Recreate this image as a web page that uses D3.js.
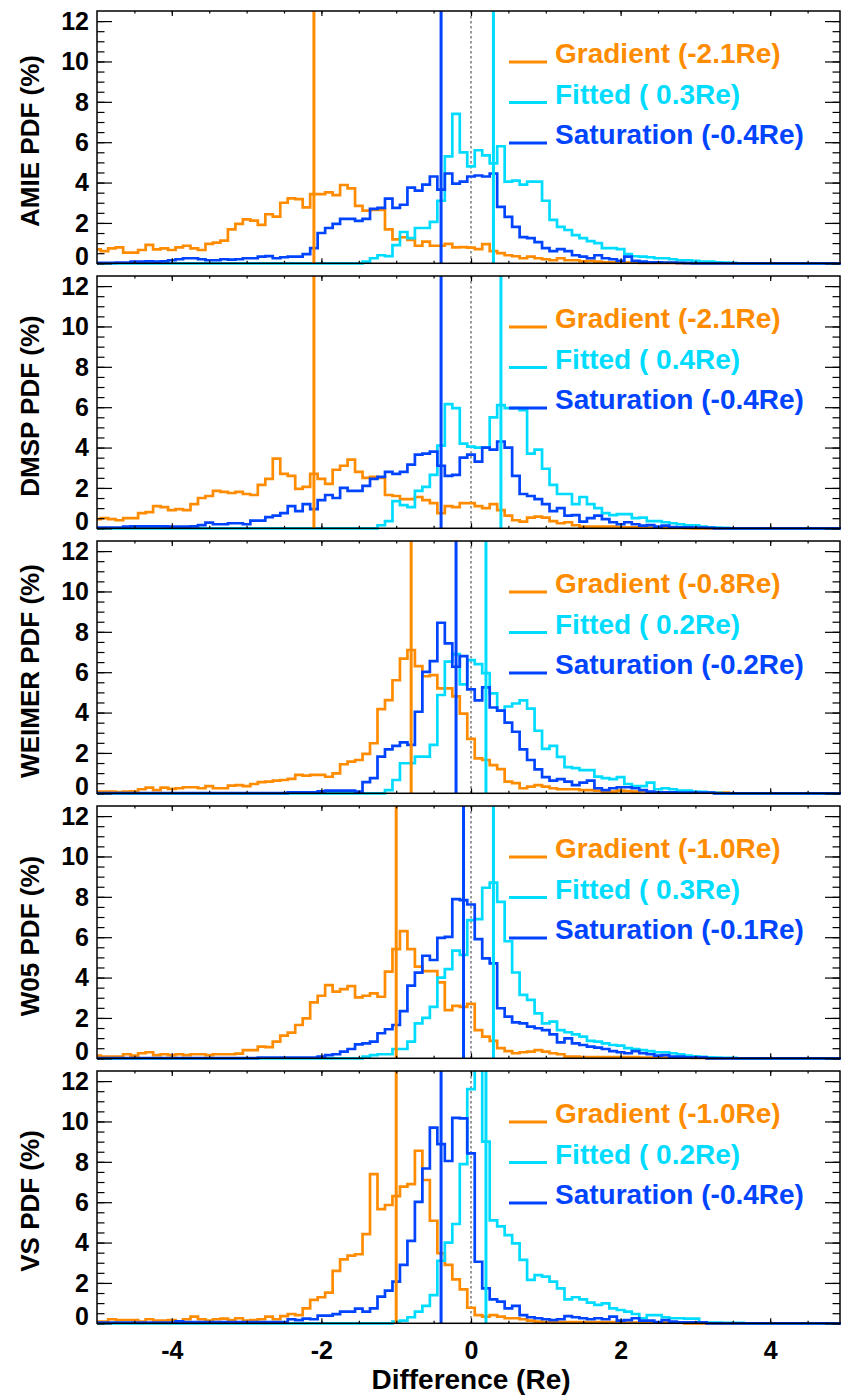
<!DOCTYPE html>
<html>
<head>
<meta charset="utf-8">
<script src="https://cdn.jsdelivr.net/npm/d3@7"></script>
<style>
  body { margin: 0; background: #ffffff; }
</style>
</head>
<body>
<div class="chart"></div>
<script>
var w = 841;
var h = 1395;
var colorGradient = "#ff8c00";
var colorFitted = "#00dcff";
var colorSaturation = "#0044ff";
var fontFamily = "'Liberation Sans', Arial, Helvetica, sans-serif";

// bin centres, 0.1 Re wide, from -5 to 5
var binCenters = d3.range(101).map(function(i){ return (i - 50) / 10; });

var panelNames = ["AMIE", "DMSP", "WEIMER", "W05", "VS"];
var gradientMeans = [-2.1, -2.1, -0.8, -1.0, -1.0];
var fittedMeans = [0.3, 0.4, 0.2, 0.3, 0.2];
var saturationMeans = [-0.4, -0.4, -0.2, -0.1, -0.4];

var yTicks = [0, 2, 4, 6, 8, 10, 12];
var yMinorTicks = d3.range(0, 12.5, 0.5);
var xTicks = [-4, -2, 0, 2, 4];
var xMinorTicks = d3.range(-4.5, 5, 0.5);

// PDF (%) per bin
var amieGradient = [
 0.69, 0.6, 0.74, 0.79, 0.53, 0.53, 0.66, 0.91, 0.69, 0.74,
 0.66, 0.79, 0.87, 0.74, 0.66, 0.96, 1.02, 1.12, 1.68, 1.95,
 2.18, 2.11, 1.9, 2.43, 2.31, 3.0, 3.22, 3.18, 2.77, 3.43,
 3.43, 3.51, 3.38, 3.88, 3.71, 2.85, 2.61, 2.64, 2.64, 1.68,
 1.19, 1.29, 1.16, 0.87, 1.07, 0.87, 0.87, 0.96, 0.79, 0.8,
 0.78, 0.7, 0.95, 0.6, 0.5, 0.4, 0.35, 0.25, 0.33, 0.25,
 0.2, 0.15, 0.25, 0.15, 0.15, 0.1, 0.12, 0.08, 0.05, 0.05,
 0.03, 0.03, 0.03, 0.02, 0.02, 0.02, 0.02, 0.02, 0.01, 0.01,
 0, 0, 0, 0, 0, 0, 0, 0, 0, 0,
 0, 0, 0, 0, 0, 0, 0, 0, 0, 0,
 0];
var amieFitted = [
 0, 0, 0, 0, 0, 0, 0, 0, 0, 0,
 0, 0, 0, 0, 0, 0, 0, 0, 0, 0,
 0, 0, 0, 0, 0, 0, 0, 0, 0, 0,
 0, 0, 0, 0, 0, 0, 0.08, 0.25, 0.4, 0.36,
 0.9, 1.55, 1.25, 1.75, 1.75, 2.05, 3.1, 5.3, 7.4, 5.5,
 4.8, 5.6, 5.35, 4.95, 5.8, 4.05, 4.1, 3.9, 4.05, 4.05,
 3.1, 2.15, 1.8, 1.65, 1.4, 1.25, 1.1, 1.0, 0.75, 0.75,
 0.7, 0.45, 0.35, 0.33, 0.3, 0.25, 0.25, 0.2, 0.15, 0.15,
 0.12, 0.08, 0.08, 0.05, 0.03, 0.02, 0, 0, 0, 0,
 0, 0, 0, 0, 0, 0, 0, 0, 0, 0,
 0];
var amieSaturation = [
 0.02, 0.02, 0.02, 0.03, 0.03, 0.08, 0.08, 0.1, 0.08, 0.1,
 0.15, 0.2, 0.25, 0.25, 0.2, 0.15, 0.15, 0.2, 0.18, 0.2,
 0.25, 0.25, 0.33, 0.36, 0.25, 0.3, 0.33, 0.33, 0.45, 0.75,
 1.5, 1.75, 1.95, 2.2, 2.2, 2.1, 2.2, 2.7, 2.75, 3.2,
 2.75, 2.9, 3.75, 3.6, 3.9, 4.3, 3.65, 4.45, 3.95, 4.05,
 4.3, 4.35, 4.3, 4.45, 2.8, 2.3, 1.8, 1.3, 1.25, 1.05,
 0.75, 0.6, 0.7, 0.6, 0.4, 0.33, 0.25, 0.4, 0.25, 0.2,
 0.12, 0.33, 0.12, 0.08, 0.05, 0.05, 0.04, 0.03, 0.02, 0.01,
 0, 0, 0, 0, 0, 0, 0, 0, 0, 0,
 0, 0, 0, 0, 0, 0, 0, 0, 0, 0,
 0];

var dmspGradient = [
 0.45, 0.5, 0.45, 0.4, 0.5, 0.5, 0.75, 0.8, 1.1, 1.05,
 0.9, 0.95, 0.9, 1.2, 1.5, 1.6, 1.85, 1.8, 1.75, 1.8,
 1.7, 1.65, 2.15, 2.45, 3.45, 2.7, 2.6, 1.95, 2.05, 2.7,
 2.45, 2.2, 2.9, 3.1, 3.4, 2.8, 2.5, 2.55, 2.5, 1.65,
 1.6, 1.45, 1.45, 1.55, 1.4, 1.25, 0.75, 1.1, 1.05, 1.25,
 1.25, 1.1, 1.0, 1.2, 0.9, 0.63, 0.4, 0.33, 0.53, 0.58,
 0.53, 0.36, 0.25, 0.3, 0.15, 0.08, 0.08, 0.08, 0.08, 0.08,
 0.05, 0.05, 0.05, 0.04, 0.03, 0.03, 0.02, 0.02, 0.02, 0.01,
 0, 0, 0, 0, 0, 0, 0, 0, 0, 0,
 0, 0, 0, 0, 0, 0, 0, 0, 0, 0,
 0];
var dmspFitted = [
 0, 0, 0, 0, 0, 0, 0, 0, 0, 0,
 0, 0, 0, 0, 0, 0, 0, 0, 0, 0,
 0, 0, 0, 0, 0, 0, 0, 0, 0, 0,
 0, 0, 0, 0, 0, 0, 0, 0, 0.15, 0.36,
 1.35, 1.15, 1.05, 1.85, 2.05, 2.65, 4.1, 6.15, 5.95, 4.2,
 4.05, 4.0, 4.0, 5.5, 6.1, 5.95, 5.95, 5.85, 3.7, 3.9,
 2.95, 2.15, 1.7, 1.7, 1.2, 1.55, 1.2, 1.0, 0.75, 0.65,
 0.7, 0.7, 0.5, 0.53, 0.36, 0.36, 0.3, 0.25, 0.2, 0.15,
 0.15, 0.08, 0.05, 0.03, 0.02, 0, 0, 0, 0, 0,
 0, 0, 0, 0, 0, 0, 0, 0, 0, 0,
 0];
var dmspSaturation = [
 0.03, 0.03, 0.03, 0.03, 0.08, 0.1, 0.1, 0.1, 0.1, 0.1,
 0.08, 0.08, 0.08, 0.1, 0.16, 0.28, 0.2, 0.2, 0.25, 0.25,
 0.2, 0.38, 0.38, 0.55, 0.63, 0.75, 1.1, 0.85, 1.2, 0.95,
 1.4, 1.65, 1.5, 2.0, 1.85, 1.85, 2.1, 2.45, 2.55, 2.8,
 2.7, 2.8, 3.15, 3.65, 3.7, 3.8, 3.1, 2.6, 2.65, 3.5,
 3.65, 3.3, 4.0, 3.9, 4.3, 4.0, 2.6, 1.7, 1.6, 1.45,
 1.2, 0.85, 1.0, 0.63, 0.65, 0.33, 0.5, 0.63, 0.45, 0.3,
 0.2, 0.3, 0.2, 0.13, 0.16, 0.08, 0.13, 0.06, 0.05, 0.05,
 0.04, 0.03, 0.02, 0, 0, 0, 0, 0, 0, 0,
 0, 0, 0, 0, 0, 0, 0, 0, 0, 0,
 0];

var weimerGradient = [
 0.08, 0.08, 0.08, 0.06, 0.08, 0.1, 0.2, 0.28, 0.16, 0.28,
 0.22, 0.25, 0.3, 0.3, 0.25, 0.36, 0.25, 0.25, 0.38, 0.41,
 0.36, 0.46, 0.55, 0.58, 0.63, 0.66, 0.71, 0.91, 0.88, 0.91,
 0.91, 0.82, 0.99, 1.44, 1.57, 1.65, 1.95, 2.48, 4.17, 4.62,
 5.6, 6.67, 7.1, 6.3, 5.8, 5.85, 5.2, 5.2, 4.8, 3.95,
 2.7, 1.73, 1.65, 1.4, 1.2, 0.58, 0.5, 0.25, 0.33, 0.41,
 0.33, 0.25, 0.2, 0.2, 0.2, 0.16, 0.16, 0.13, 0.08, 0.08,
 0.13, 0.11, 0.08, 0.11, 0.05, 0.05, 0.05, 0.05, 0.05, 0.05,
 0.05, 0.03, 0.03, 0.03, 0.03, 0, 0, 0, 0, 0,
 0, 0, 0, 0, 0, 0, 0, 0, 0, 0,
 0];
var weimerFitted = [
 0, 0, 0, 0, 0, 0, 0, 0, 0, 0,
 0, 0, 0, 0, 0, 0, 0, 0, 0, 0,
 0, 0, 0, 0, 0, 0, 0, 0, 0, 0,
 0, 0, 0, 0, 0, 0, 0, 0, 0, 0.16,
 0.66, 1.49, 1.49, 1.82, 1.82, 2.4, 4.87, 6.52, 6.9, 5.4,
 6.6, 6.4, 5.95, 4.95, 4.1, 4.3, 4.45, 4.6, 4.2, 3.1,
 2.2, 2.35, 1.8, 1.3, 1.25, 1.15, 1.15, 0.83, 0.75, 0.7,
 0.8, 0.46, 0.36, 0.36, 0.53, 0.2, 0.25, 0.2, 0.13, 0.13,
 0.08, 0.07, 0.03, 0.02, 0, 0, 0, 0, 0, 0,
 0, 0, 0, 0, 0, 0, 0, 0, 0, 0,
 0];
var weimerSaturation = [
 0.01, 0.01, 0.01, 0.01, 0.01, 0.01, 0.01, 0.01, 0.01, 0.01,
 0.01, 0.01, 0.01, 0.01, 0.01, 0.01, 0.01, 0.01, 0.01, 0.01,
 0.01, 0.01, 0.01, 0.01, 0.01, 0.01, 0.05, 0.05, 0.05, 0.05,
 0.1, 0.13, 0.13, 0.13, 0.13, 0.08, 0.55, 0.75, 1.82, 2.18,
 2.35, 2.52, 2.4, 4.04, 6.02, 6.55, 8.45, 7.43, 6.27, 6.8,
 5.15, 4.6, 5.25, 4.25, 4.1, 3.5, 3.05, 2.18, 1.65, 1.19,
 0.8, 0.63, 0.7, 0.58, 0.41, 0.53, 0.63, 0.25, 0.16, 0.25,
 0.3, 0.3, 0.25, 0.16, 0.08, 0.05, 0.05, 0.05, 0.03, 0.03,
 0.03, 0.03, 0.03, 0, 0, 0, 0, 0, 0, 0,
 0, 0, 0, 0, 0, 0, 0, 0, 0, 0,
 0];

var w05Gradient = [
 0.13, 0.08, 0.08, 0.08, 0.2, 0.13, 0.25, 0.3, 0.16, 0.2,
 0.16, 0.2, 0.16, 0.2, 0.2, 0.16, 0.2, 0.2, 0.2, 0.23,
 0.41, 0.41, 0.58, 0.55, 0.83, 1.12, 1.27, 1.65, 1.98, 2.77,
 3.1, 3.63, 3.3, 3.43, 3.58, 3.02, 3.1, 3.22, 3.05, 4.29,
 5.41, 6.3, 5.41, 4.54, 4.32, 4.32, 3.76, 2.39, 2.6, 2.55,
 2.7, 1.4, 1.07, 0.86, 0.5, 0.36, 0.25, 0.3, 0.33, 0.41,
 0.33, 0.25, 0.2, 0.08, 0.08, 0.06, 0.06, 0.06, 0.06, 0.06,
 0.06, 0.06, 0.06, 0.03, 0.03, 0.03, 0.03, 0.03, 0.03, 0.03,
 0.02, 0.02, 0, 0, 0, 0, 0, 0, 0, 0,
 0, 0, 0, 0, 0, 0, 0, 0, 0, 0,
 0];
var w05Fitted = [
 0, 0, 0, 0, 0, 0, 0, 0, 0, 0,
 0, 0, 0, 0, 0, 0, 0, 0, 0, 0,
 0, 0, 0, 0, 0, 0, 0, 0, 0, 0,
 0, 0, 0, 0, 0, 0, 0.08, 0.16, 0.2, 0.2,
 0.46, 0.46, 0.83, 1.73, 2.0, 2.55, 4.0, 4.42, 5.33, 5.12,
 6.85, 6.9, 8.45, 8.7, 7.75, 5.8, 4.25, 3.14, 2.89, 2.23,
 1.73, 1.82, 1.4, 1.29, 1.19, 1.07, 0.86, 0.83, 0.74, 0.66,
 0.63, 0.5, 0.46, 0.41, 0.36, 0.3, 0.3, 0.25, 0.2, 0.13,
 0.1, 0.07, 0.05, 0.03, 0.02, 0.02, 0, 0, 0, 0,
 0, 0, 0, 0, 0, 0, 0, 0, 0, 0,
 0];
var w05Saturation = [
 0.01, 0.01, 0.01, 0.01, 0.01, 0.01, 0.01, 0.01, 0.01, 0.01,
 0.01, 0.01, 0.01, 0.01, 0.01, 0.01, 0.01, 0.01, 0.01, 0.01,
 0.01, 0.01, 0.03, 0.03, 0.03, 0.03, 0.03, 0.03, 0.03, 0.03,
 0.08, 0.16, 0.2, 0.33, 0.46, 0.69, 0.74, 0.83, 1.24, 1.44,
 1.65, 2.34, 3.6, 4.24, 5.08, 4.87, 5.97, 6.02, 7.89, 7.84,
 7.62, 5.9, 4.95, 4.7, 2.48, 2.06, 1.78, 1.73, 1.57, 1.49,
 1.4, 1.19, 0.79, 0.99, 0.74, 0.66, 0.58, 0.53, 0.46, 0.36,
 0.3, 0.25, 0.36, 0.25, 0.2, 0.13, 0.16, 0.08, 0.08, 0.05,
 0.05, 0.05, 0, 0, 0, 0, 0, 0, 0, 0,
 0, 0, 0, 0, 0, 0, 0, 0, 0, 0,
 0];

var vsGradient = [
 0.08, 0.08, 0.2, 0.16, 0.16, 0.16, 0.08, 0.2, 0.13, 0.13,
 0.16, 0.08, 0.2, 0.33, 0.2, 0.13, 0.2, 0.23, 0.16, 0.25,
 0.13, 0.16, 0.2, 0.33, 0.2, 0.36, 0.46, 0.41, 0.74, 1.16,
 1.29, 1.52, 2.6, 3.17, 3.35, 3.42, 4.42, 7.39, 5.66, 5.86,
 6.3, 6.77, 6.9, 8.55, 7.1, 5.08, 3.47, 2.89, 2.18, 1.68,
 0.77, 0.41, 0.33, 0.41, 0.33, 0.25, 0.25, 0.2, 0.13, 0.08,
 0.06, 0.06, 0.06, 0.06, 0.06, 0.06, 0.06, 0.06, 0.06, 0.06,
 0.03, 0.03, 0.03, 0.03, 0.03, 0.03, 0.03, 0.03, 0.03, 0,
 0, 0, 0, 0, 0, 0, 0, 0, 0, 0,
 0, 0, 0, 0, 0, 0, 0, 0, 0, 0,
 0];
var vsFitted = [
 0, 0, 0, 0, 0, 0, 0, 0, 0, 0,
 0, 0, 0, 0, 0, 0, 0, 0, 0, 0,
 0, 0, 0, 0, 0, 0, 0, 0, 0, 0,
 0, 0, 0, 0, 0, 0, 0, 0, 0, 0,
 0.08, 0.13, 0.3, 0.58, 0.86, 1.4, 3.1, 4.0, 4.92, 7.89,
 11.6, 14.5, 9.0, 5.1, 4.8, 4.37, 3.96, 3.14, 2.15, 2.39,
 2.31, 2.06, 1.73, 1.19, 1.29, 1.19, 1.02, 0.91, 0.99, 0.74,
 0.66, 0.58, 0.46, 0.25, 0.41, 0.41, 0.3, 0.25, 0.25, 0.23,
 0.23, 0.05, 0.03, 0.03, 0.02, 0.02, 0.02, 0, 0, 0,
 0, 0, 0, 0, 0, 0, 0, 0, 0, 0,
 0];
var vsSaturation = [
 0.03, 0.03, 0.03, 0.03, 0.03, 0.03, 0.03, 0.03, 0.03, 0.03,
 0.03, 0.1, 0.06, 0.06, 0.06, 0.06, 0.06, 0.06, 0.06, 0.06,
 0.06, 0.06, 0.06, 0.06, 0.06, 0.06, 0.2, 0.16, 0.23, 0.2,
 0.38, 0.38, 0.45, 0.58, 0.58, 0.73, 0.58, 0.74, 1.32, 1.62,
 2.06, 2.89, 4.08, 6.02, 7.67, 9.69, 8.88, 8.04, 10.18, 10.15,
 8.42, 3.05, 1.73, 1.19, 1.07, 0.74, 0.86, 0.41, 0.3, 0.25,
 0.2, 0.16, 0.2, 0.36, 0.3, 0.25, 0.2, 0.25, 0.2, 0.33,
 0.13, 0.16, 0.25, 0.13, 0.13, 0.06, 0.16, 0.08, 0.05, 0.05,
 0.05, 0.05, 0, 0, 0, 0, 0, 0, 0, 0,
 0, 0, 0, 0, 0, 0, 0, 0, 0, 0,
 0];

var gradientPdf = [amieGradient, dmspGradient, weimerGradient, w05Gradient, vsGradient];
var fittedPdf = [amieFitted, dmspFitted, weimerFitted, w05Fitted, vsFitted];
var saturationPdf = [amieSaturation, dmspSaturation, weimerSaturation, w05Saturation, vsSaturation];

var series = [
  { name: "Gradient", color: colorGradient, pdf: gradientPdf, mean: gradientMeans },
  { name: "Fitted", color: colorFitted, pdf: fittedPdf, mean: fittedMeans },
  { name: "Saturation", color: colorSaturation, pdf: saturationPdf, mean: saturationMeans }
];

var plotLeft = 97;
var plotRight = 840;
var svg;
var x = d3.scaleLinear().domain([-5, 5]).range([97, 845]);

drawChart(".chart");

function drawChart(dom) {
  svg = d3.select(dom)
    .append("svg")
    .attr("width", w)
    .attr("height", h)
    .style("background", "#ffffff");

  for (var i = 0; i < panelNames.length; i++) {
    drawPanel(i);
  }

  svg.append("text")
    .attr("x", 471)
    .attr("y", 1389)
    .attr("text-anchor", "middle")
    .attr("font-family", fontFamily)
    .attr("font-weight", "bold")
    .attr("font-size", 28)
    .attr("fill", "#000")
    .text("Difference (Re)");
}

function styleTicks(g) {
  g.select(".domain").remove();
  g.selectAll("line").attr("stroke", "#000").attr("stroke-width", 1.2);
}

function drawPanel(i) {
  var top = 11 + i * 265;
  var bottom = top + 252.3;
  var y = d3.scaleLinear().domain([0, 12.5]).range([bottom, top]);
  var panel = svg.append("g");

  panel.append("clipPath")
    .attr("id", "clip" + i)
    .append("rect")
    .attr("x", plotLeft - 1)
    .attr("y", top)
    .attr("width", plotRight - plotLeft + 2)
    .attr("height", bottom - top + 3);

  var plot = panel.append("g").attr("clip-path", "url(#clip" + i + ")");

  plot.append("line")
    .attr("x1", x(0))
    .attr("x2", x(0))
    .attr("y1", top)
    .attr("y2", bottom)
    .attr("stroke", "#000")
    .attr("stroke-width", 0.8)
    .attr("stroke-dasharray", "2.5,2.5");

  var hist = d3.line()
    .x(function(d, k){ return x(binCenters[k]); })
    .y(function(d){ return y(d); })
    .curve(d3.curveStep);

  series.forEach(function(s){
    plot.append("path")
      .datum(s.pdf[i])
      .attr("d", hist)
      .attr("fill", "none")
      .attr("stroke", s.color)
      .attr("stroke-width", 2.7)
      .attr("stroke-linejoin", "miter");
  });

  series.forEach(function(s){
    plot.append("line")
      .attr("x1", x(s.mean[i]))
      .attr("x2", x(s.mean[i]))
      .attr("y1", top)
      .attr("y2", bottom)
      .attr("stroke", s.color)
      .attr("stroke-width", 3);
  });

  // frame
  panel.append("rect")
    .attr("x", plotLeft)
    .attr("y", top)
    .attr("width", plotRight - plotLeft)
    .attr("height", bottom - top)
    .attr("fill", "none")
    .attr("stroke", "#000")
    .attr("stroke-width", 1.5);

  // ticks on all four sides, pointing inward
  panel.append("g").attr("transform", "translate(" + plotLeft + ",0)")
    .call(d3.axisRight(y).tickValues(yMinorTicks).tickSize(7.5).tickFormat(""))
    .call(styleTicks);
  panel.append("g").attr("transform", "translate(" + plotLeft + ",0)")
    .call(d3.axisRight(y).tickValues(yTicks).tickSize(15).tickFormat(""))
    .call(styleTicks);
  panel.append("g").attr("transform", "translate(" + plotRight + ",0)")
    .call(d3.axisLeft(y).tickValues(yMinorTicks).tickSize(7.5).tickFormat(""))
    .call(styleTicks);
  panel.append("g").attr("transform", "translate(" + plotRight + ",0)")
    .call(d3.axisLeft(y).tickValues(yTicks).tickSize(15).tickFormat(""))
    .call(styleTicks);
  panel.append("g").attr("transform", "translate(0," + top + ")")
    .call(d3.axisBottom(x).tickValues(xMinorTicks).tickSize(2.5).tickFormat(""))
    .call(styleTicks);
  panel.append("g").attr("transform", "translate(0," + top + ")")
    .call(d3.axisBottom(x).tickValues(xTicks).tickSize(5).tickFormat(""))
    .call(styleTicks);
  panel.append("g").attr("transform", "translate(0," + bottom + ")")
    .call(d3.axisTop(x).tickValues(xMinorTicks).tickSize(2.5).tickFormat(""))
    .call(styleTicks);
  panel.append("g").attr("transform", "translate(0," + bottom + ")")
    .call(d3.axisTop(x).tickValues(xTicks).tickSize(5).tickFormat(""))
    .call(styleTicks);

  // y tick labels
  var yLabels = panel.append("g")
    .attr("transform", "translate(" + plotLeft + ",0)")
    .call(d3.axisLeft(y).tickValues(yTicks).tickSize(0).tickPadding(8)
      .tickFormat(function(d){ return String(d); }));
  yLabels.select(".domain").remove();
  yLabels.attr("font-family", fontFamily)
    .attr("font-weight", "bold")
    .attr("font-size", 25);
  yLabels.selectAll("text")
    .attr("fill", "#000")
    .attr("dy", function(d){ return d === 0 ? "0.05em" : "0.33em"; });

  // x tick labels only under the last panel
  if (i === panelNames.length - 1) {
    var xLabels = panel.append("g")
      .attr("transform", "translate(0," + bottom + ")")
      .call(d3.axisBottom(x).tickValues(xTicks).tickSize(0).tickPadding(18)
        .tickFormat(function(d){ return String(d); }));
    xLabels.select(".domain").remove();
    xLabels.attr("font-family", fontFamily)
      .attr("font-weight", "bold")
      .attr("font-size", 25);
    xLabels.selectAll("text").attr("fill", "#000");
  }

  // y title
  panel.append("text")
    .attr("transform", "translate(39," + (top + 130) + ") rotate(-90)")
    .attr("text-anchor", "middle")
    .attr("font-family", fontFamily)
    .attr("font-weight", "bold")
    .attr("font-size", 26)
    .attr("fill", "#000")
    .text(panelNames[i] + " PDF (%)");

  // legend
  var fmt = d3.format(".1f");
  series.forEach(function(s, k){
    var ly = top + 51 + k * 40.5;
    panel.append("line")
      .attr("x1", 509)
      .attr("x2", 547)
      .attr("y1", ly)
      .attr("y2", ly)
      .attr("stroke", s.color)
      .attr("stroke-width", 3);
    var val = fmt(s.mean[i]).replace("\u2212", "-");
    while (val.length < 4) val = " " + val;
    panel.append("text")
      .attr("x", 555)
      .attr("y", ly + 1)
      .attr("xml:space", "preserve")
      .style("white-space", "pre")
      .attr("font-family", fontFamily)
      .attr("font-weight", "bold")
      .attr("font-size", 28)
      .attr("fill", s.color)
      .text(s.name + " (" + val + "Re)");
  });
}
</script>
</body>
</html>
